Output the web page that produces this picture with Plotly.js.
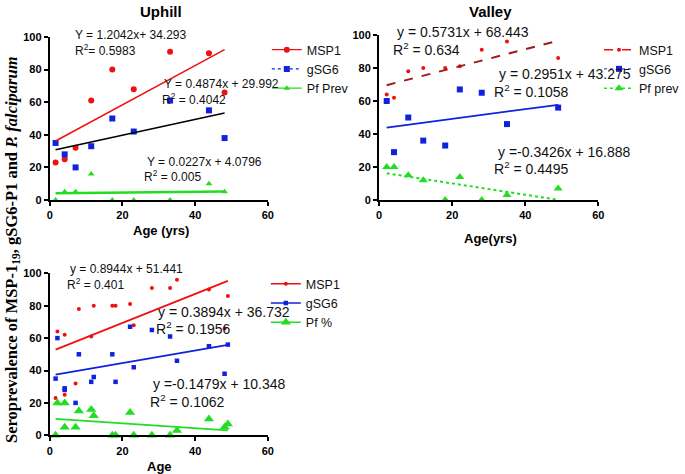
<!DOCTYPE html>
<html><head><meta charset="utf-8">
<script src="https://cdn.plot.ly/plotly-3.0.1.min.js"></script>
<style>html,body{margin:0;padding:0;background:#fff}#chart{width:685px;height:474px}</style>
</head><body><div id="chart"></div>
<script>
// ---- Uphill ----
const upAge  = [1.6, 4.1, 7.1, 11.4, 17.2, 23.1, 33.1, 43.8, 48.1];
const upMSP1 = [23, 25, 32, 61, 80, 68, 91, 90, 66];
const upGSG6 = [35, 28, 20, 33, 50, 42, 61, 55, 38];
const upPf   = [0, 5, 5, 16, 0, 0, 0, 10, 5];
// ---- Valley ----
const valAge  = [2.1, 4.1, 8.0, 12.1, 18.1, 22.1, 28.1, 35.0, 49.0];
const valMSP1 = [64, 62, 78, 80, 80, 81, 91, 96, 86];
const valGSG6 = [60, 29, 50, 36, 33, 67, 65, 46, 56];
const valPf   = [20, 20, 15, 12, 0, 14, 0, 3, 7];
// ---- regression line end points (from printed equations) ----
const upFitAge  = [1.6, 48.1];
const upFitMSP1 = [36.2, 92.2];
const upFitGSG6 = [30.8, 53.4];
const upFitPf   = [4.1, 5.2];
const valFitAge  = [2.1, 49.0];
const valFitMSP1 = [69.6, 96.5];
const valFitGSG6 = [43.9, 57.7];
const valFitPf   = [16.2, 0.1];
const allFitAge  = [1.6, 49.0];
const allFitMSP1 = [52.9, 95.3];
const allFitGSG6 = [37.4, 55.8];
const allFitPf   = [10.1, 3.1];
// ---- labels ----
const panelTitles = ['Uphill', 'Valley'];
const xTitles = ['Age (yrs)', 'Age(yrs)', 'Age'];
const legendNames1 = ['MSP1', 'gSG6', 'Pf Prev'];
const legendNames2 = ['MSP1', 'gSG6', 'Pf prev'];
const legendNames3 = ['MSP1', 'gSG6', 'Pf %'];
const equations1 = ['Y = 1.2042x+ 34.293', 'R<sup>2</sup>= 0.5983', 'Y = 0.4874x + 29.992', 'R<sup>2</sup> = 0.4042', 'Y = 0.0227x + 4.0796', 'R<sup>2</sup> = 0.005'];
const equations2 = ['y = 0.5731x + 68.443', 'R<sup>2</sup> = 0.634', 'y = 0.2951x + 43.275', 'R<sup>2</sup> = 0.1058', 'y =-0.3426x + 16.888', 'R<sup>2</sup> = 0.4495'];
const equations3 = ['y = 0.8944x + 51.441', 'R<sup>2</sup> = 0.401', 'y = 0.3894x + 36.732', 'R<sup>2</sup> = 0.1956', 'y =-0.1479x + 10.348', 'R<sup>2</sup> = 0.1062'];
const yTitle = 'Seroprevalence of MSP-1<sub>19</sub>, gSG6-P1 and <i>P. falciparum</i>';
const xTicks = [0, 20, 40, 60];
const yTicks = [0, 20, 40, 60, 80, 100];

const allAge  = upAge.concat(valAge);
const allMSP1 = upMSP1.concat(valMSP1);
const allGSG6 = upGSG6.concat(valGSG6);
const allPf   = upPf.concat(valPf);

const W = 685, H = 474;
const px = v => v / W, py = v => 1 - v / H;

const RED = '#ee1111', BLUE = '#1122dd', GREEN = '#22dd22', DRED = '#a01818';
const SANS = 'Liberation Sans, Arial, sans-serif';

const traces = [];
function pts(xa, ya, xs, ys, sym, size, color) {
  traces.push({x: xs, y: ys, xaxis: xa, yaxis: ya, type: 'scatter', mode: 'markers', showlegend: false,
    marker: {symbol: sym, size: size, color: color}, cliponaxis: false, hoverinfo: 'x+y'});
}
function fit(xa, ya, xs, ys, color, width, dash) {
  traces.push({x: xs, y: ys, xaxis: xa, yaxis: ya, type: 'scatter', mode: 'lines', showlegend: false,
    line: {color: color, width: width, dash: dash || 'solid'}, hoverinfo: 'skip'});
}
function leg(xa, ya, legend, name, sym, size, color, lcolor, width, dash) {
  traces.push({x: [null], y: [null], xaxis: xa, yaxis: ya, type: 'scatter', mode: 'lines+markers', name: name,
    legend: legend, marker: {symbol: sym, size: size, color: color},
    line: {color: lcolor, width: width, dash: dash || 'solid'}});
}

// Panel 1 - Uphill
pts('x', 'y', upAge, upMSP1, 'circle', 6, RED);
pts('x', 'y', upAge, upGSG6, 'square', 6, BLUE);
pts('x', 'y', upAge, upPf, 'triangle-up', 6, GREEN);
fit('x', 'y', upFitAge, upFitMSP1, RED, 1.5);
fit('x', 'y', upFitAge, upFitGSG6, '#000', 1.6);
fit('x', 'y', upFitAge, upFitPf, GREEN, 2.5);
leg('x', 'y', 'legend', legendNames1[0], 'circle', 6, RED, RED, 1.2);
leg('x', 'y', 'legend', legendNames1[1], 'square', 6, BLUE, BLUE, 1.2, 'dot');
leg('x', 'y', 'legend', legendNames1[2], 'triangle-up', 6, GREEN, GREEN, 1.2);

// Panel 2 - Valley
pts('x2', 'y2', valAge, valMSP1, 'circle', 4, RED);
pts('x2', 'y2', valAge, valGSG6, 'square', 6, BLUE);
pts('x2', 'y2', valAge, valPf, 'triangle-up', 8, GREEN);
fit('x2', 'y2', valFitAge, valFitMSP1, DRED, 2, 'dash');
fit('x2', 'y2', valFitAge, valFitGSG6, BLUE, 1.8);
fit('x2', 'y2', valFitAge, valFitPf, GREEN, 2, 'dot');
leg('x2', 'y2', 'legend2', legendNames2[0], 'circle', 4, RED, RED, 1.5, 'dash');
leg('x2', 'y2', 'legend2', legendNames2[1], 'square', 6, BLUE, BLUE, 1, 'dot');
leg('x2', 'y2', 'legend2', legendNames2[2], 'triangle-up', 8, GREEN, GREEN, 1.5, 'dot');

// Panel 3 - Combined
pts('x3', 'y3', allAge, allMSP1, 'circle', 4, RED);
pts('x3', 'y3', allAge, allGSG6, 'square', 4.5, BLUE);
pts('x3', 'y3', allAge, allPf, 'triangle-up', 9, GREEN);
fit('x3', 'y3', allFitAge, allFitMSP1, RED, 1.8);
fit('x3', 'y3', allFitAge, allFitGSG6, BLUE, 1.8);
fit('x3', 'y3', allFitAge, allFitPf, GREEN, 1.8);
leg('x3', 'y3', 'legend3', legendNames3[0], 'circle', 4, RED, RED, 1.5);
leg('x3', 'y3', 'legend3', legendNames3[1], 'square', 4.5, BLUE, BLUE, 1.5);
leg('x3', 'y3', 'legend3', legendNames3[2], 'triangle-up', 9, GREEN, GREEN, 1.5);

function xAxis(d0, d1, anchor) {
  return {domain: [px(d0), px(d1)], anchor: anchor, range: [0, 60], tickvals: xTicks, showgrid: false, zeroline: false,
    showline: true, linecolor: '#000', linewidth: 2, ticks: 'outside', ticklen: 4, tickwidth: 2, tickcolor: '#000',
    tickfont: {family: SANS, size: 11, color: '#000', weight: 700}, fixedrange: true};
}
function yAxis(top, bottom, anchor) {
  return {domain: [py(bottom), py(top)], anchor: anchor, range: [0, 100], tickvals: yTicks, showgrid: false, zeroline: false,
    showline: true, linecolor: '#000', linewidth: 2, ticks: 'outside', ticklen: 4, tickwidth: 2, tickcolor: '#000',
    tickfont: {family: SANS, size: 11, color: '#000', weight: 700}, fixedrange: true};
}

const annotations = [];
function txt(text, x, y, size, opts) {
  annotations.push(Object.assign({text: text, x: px(x), y: py(y), xref: 'paper', yref: 'paper', showarrow: false,
    xanchor: 'left', yanchor: 'middle', font: {family: SANS, size: size, color: '#111'}}, opts || {}));
}
const eqPos1 = [[73, 35], [73, 50], [163, 84], [161, 99], [146, 162], [143, 176]];
const eqPos2 = [[397, 32], [393, 49], [499, 74], [494, 91], [498, 152], [494, 168]];
const eqPos3 = [[68, 269], [65, 284], [157, 312], [155, 328], [152, 384], [149, 401]];
equations1.forEach((t, i) => txt(t, eqPos1[i][0], eqPos1[i][1], 12));
equations2.forEach((t, i) => txt(t, eqPos2[i][0], eqPos2[i][1], 14));
equations3.forEach((t, i) => txt(t, eqPos3[i][0], eqPos3[i][1], i < 2 ? 12 : 14));

const boldC = (size) => ({xanchor: 'center', font: {family: SANS, size: size, color: '#000', weight: 700}});
txt(panelTitles[0], 162, 11, 15, boldC(15));
txt(panelTitles[1], 493, 11, 15, boldC(15));
txt(xTitles[0], 162, 231, 13, boldC(13));
txt(xTitles[1], 493, 239, 13, boldC(13));
txt(xTitles[2], 160, 466, 13, boldC(13));
txt(yTitle, 12, 249, 16.5, {xanchor: 'center', textangle: -90,
  font: {family: 'Liberation Serif, Times New Roman, serif', size: 16.5, color: '#000', weight: 700}});

function legendCfg(x, y, size) {
  return {x: px(x), y: py(y), xanchor: 'left', yanchor: 'top', bgcolor: 'rgba(0,0,0,0)', borderwidth: 0,
    font: {family: SANS, size: size, color: '#111'}, itemwidth: 30, tracegroupgap: 0, itemclick: false, itemdoubleclick: false};
}

const layout = {
  width: W, height: H, margin: {l: 0, r: 0, t: 0, b: 0}, paper_bgcolor: '#fff', plot_bgcolor: 'rgba(0,0,0,0)',
  xaxis: xAxis(50, 269, 'y'), yaxis: yAxis(37, 200, 'x'),
  xaxis2: xAxis(380.7, 601, 'y2'), yaxis2: yAxis(35, 200, 'x2'),
  xaxis3: xAxis(50, 269, 'y3'), yaxis3: yAxis(273.3, 435.3, 'x3'),
  legend: legendCfg(268, 35, 12.5),
  legend2: legendCfg(602, 35, 12.5),
  legend3: legendCfg(267, 269, 12.5),
  annotations: annotations,
  showlegend: true
};

Plotly.newPlot('chart', traces, layout, {displayModeBar: false, staticPlot: true});
</script></body></html>
